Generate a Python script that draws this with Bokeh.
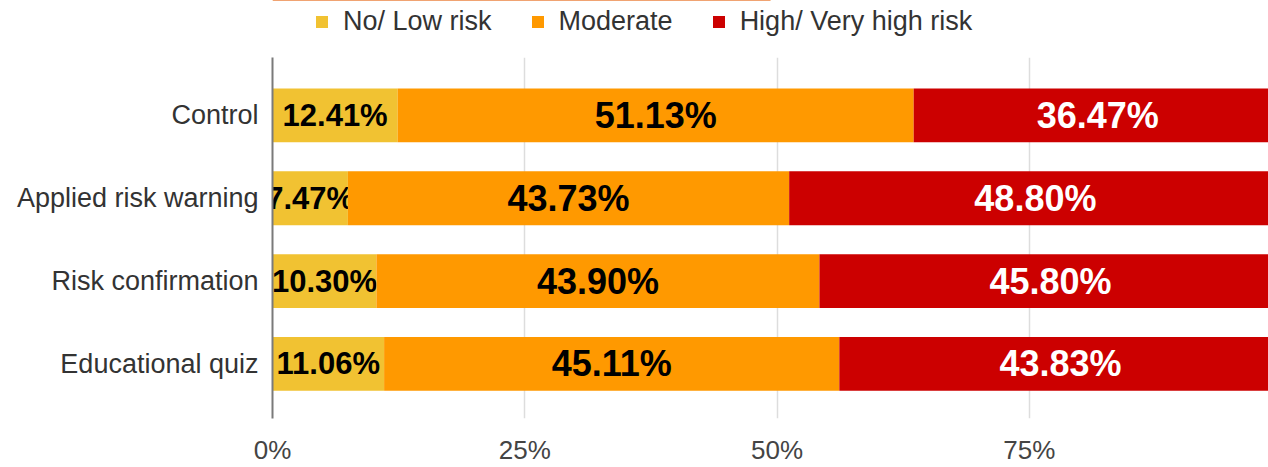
from bokeh.plotting import figure
from bokeh.models import ColumnDataSource, Range1d, Legend, LegendItem, FixedTicker
from bokeh.layouts import column
from bokeh.core.properties import value
from bokeh.embed import file_html
from bokeh.resources import INLINE

categories = ["Control", "Applied risk warning", "Risk confirmation", "Educational quiz"]
series_names = ["No/ Low risk", "Moderate", "High/ Very high risk"]
low = [12.41, 7.47, 10.30, 11.06]
moderate = [51.13, 43.73, 43.90, 45.11]
high = [36.47, 48.80, 45.80, 43.83]
x_ticks = [0, 25, 50, 75]
colors = ["#F1C232", "#FF9900", "#CC0000"]
label_colors = ["#000000", "#000000", "#FFFFFF"]
label_sizes = ["31px", "36px", "36px"]

FONT = "Liberation Sans"

ypos = [float(len(categories) - 1 - i) for i in range(len(categories))]

# ---- main chart ----
p = figure(width=1268, height=410, output_backend="svg", toolbar_location=None,
           x_range=Range1d(0, 98.7), y_range=Range1d(-0.66, 3.70))
p.min_border_left = 272
p.min_border_right = 0
p.min_border_top = 0
p.min_border_bottom = 49
p.outline_line_color = None

series = [low, moderate, high]
left = [0.0] * len(categories)
for k, vals in enumerate(series):
    right = [l + v for l, v in zip(left, vals)]
    src = ColumnDataSource(dict(y=ypos, left=left, right=right,
                                mid=[(l + r) / 2 for l, r in zip(left, right)],
                                txt=["%.2f%%" % v for v in vals]))
    p.hbar(y="y", left="left", right="right", height=0.65, source=src,
           fill_color=colors[k], line_color=None)
    p.text(x="mid", y="y", text="txt", source=src, text_align="center", text_baseline="middle",
           text_font=value(FONT), text_font_style="bold", text_font_size=value(label_sizes[k]),
           text_color=label_colors[k])
    left = right

# x axis
p.xaxis.ticker = FixedTicker(ticks=x_ticks)
p.xaxis.major_label_overrides = {float(t): "%d%%" % t for t in x_ticks}
p.xaxis.axis_line_color = None
p.xaxis.major_tick_line_color = None
p.xaxis.minor_tick_line_color = None
p.xaxis.major_label_text_font = FONT
p.xaxis.major_label_text_font_size = "26px"
p.xaxis.major_label_text_color = "#444444"
p.xaxis.major_label_standoff = 10

# y axis
p.yaxis.ticker = FixedTicker(ticks=ypos)
p.yaxis.major_label_overrides = {y: c for y, c in zip(ypos, categories)}
p.yaxis.axis_line_color = "#7a7a7a"
p.yaxis.axis_line_width = 2
p.yaxis.major_tick_line_color = None
p.yaxis.minor_tick_line_color = None
p.yaxis.major_label_text_font = FONT
p.yaxis.major_label_text_font_size = "27px"
p.yaxis.major_label_text_color = "#333333"
p.yaxis.major_label_standoff = 8

p.xgrid.grid_line_color = "#dddddd"
p.xgrid.grid_line_width = 1.5
p.ygrid.grid_line_color = None

# ---- legend strip on top ----
lg = figure(width=1268, height=57, output_backend="svg", toolbar_location=None,
            x_range=Range1d(0, 1), y_range=Range1d(0, 1), min_border=0)
lg.outline_line_color = None
lg.axis.visible = False
lg.grid.visible = False
leg_renderers = []
for k in range(len(series_names)):
    # one key entry per series, kept outside the visible strip (only its legend swatch shows)
    leg_renderers.append(lg.hbar(y=[5.0], left=[0.0], right=[0.5], height=0.5,
                                 fill_color=colors[k], line_color=None))

legend = Legend(items=[LegendItem(label=n, renderers=[r]) for n, r in zip(series_names, leg_renderers)],
                orientation="horizontal", location=(42, 20))
legend.label_text_font = FONT
legend.label_text_font_size = "27px"
legend.label_text_color = "#333333"
legend.glyph_width = 15
legend.glyph_height = 15
legend.label_standoff = 14
legend.spacing = 38
legend.padding = 4
legend.margin = 0
legend.border_line_color = None
legend.background_fill_alpha = 0
lg.add_layout(legend)

layout = column(lg, p, spacing=0)
open("out.html", "w").write(file_html(layout, INLINE))
